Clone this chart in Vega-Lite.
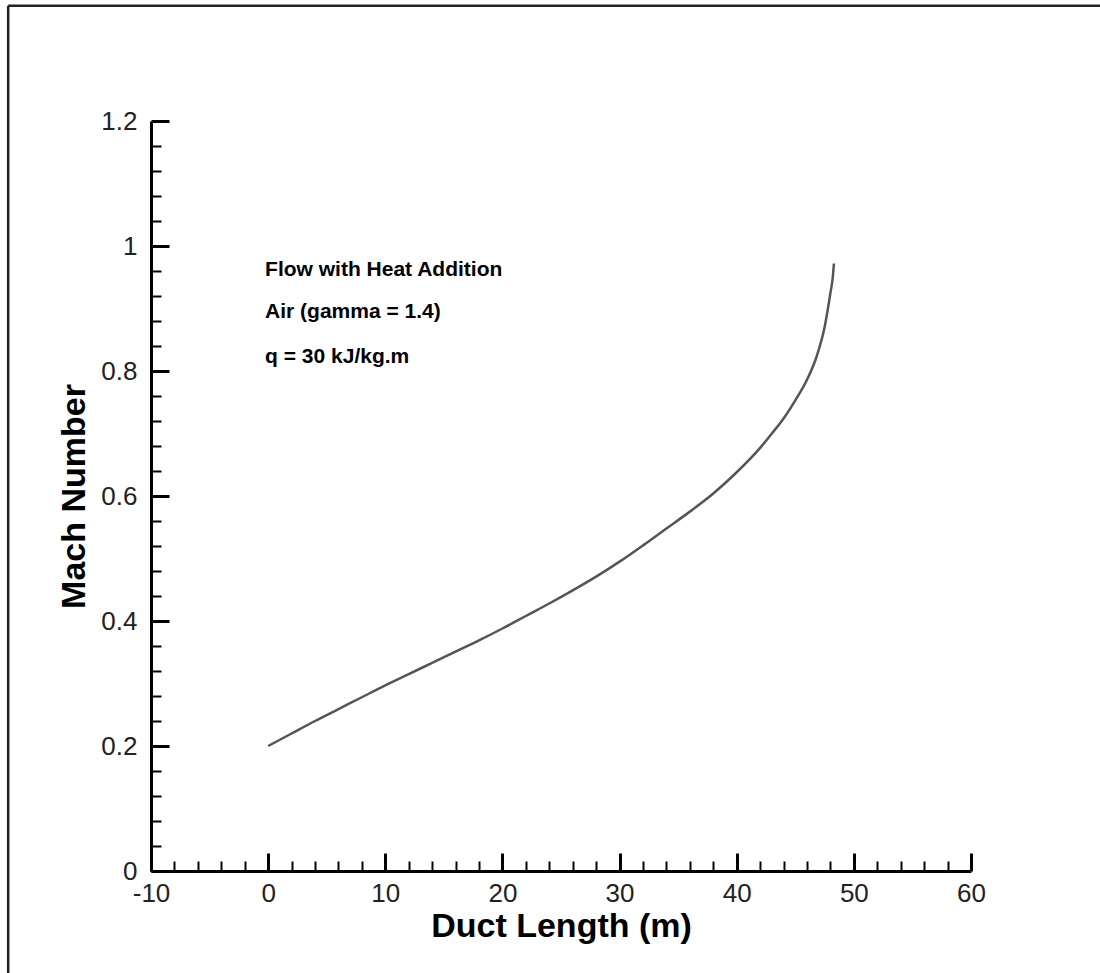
{
  "$schema": "https://vega.github.io/schema/vega-lite/v6.json",
  "width": 820,
  "height": 750,
  "autosize": {"type": "none"},
  "padding": {"left": 151, "top": 121, "right": 129, "bottom": 102},
  "background": "white",
  "config": {"view": {"stroke": null}, "axis": {"grid": false}},
  "layer": [
    {
      "data": {"values": [
        {"length": 0, "mach": 0.200},
        {"length": 2, "mach": 0.220},
        {"length": 4, "mach": 0.240},
        {"length": 6, "mach": 0.259},
        {"length": 8, "mach": 0.278},
        {"length": 10, "mach": 0.297},
        {"length": 12, "mach": 0.315},
        {"length": 14, "mach": 0.333},
        {"length": 16, "mach": 0.351},
        {"length": 18, "mach": 0.369},
        {"length": 20, "mach": 0.388},
        {"length": 22, "mach": 0.408},
        {"length": 24, "mach": 0.428},
        {"length": 26, "mach": 0.449},
        {"length": 28, "mach": 0.471},
        {"length": 30, "mach": 0.495},
        {"length": 32, "mach": 0.521},
        {"length": 34, "mach": 0.548},
        {"length": 36, "mach": 0.575},
        {"length": 38, "mach": 0.604},
        {"length": 40, "mach": 0.638},
        {"length": 42, "mach": 0.677},
        {"length": 43, "mach": 0.700},
        {"length": 44, "mach": 0.724},
        {"length": 45, "mach": 0.753},
        {"length": 46, "mach": 0.786},
        {"length": 46.8, "mach": 0.822},
        {"length": 47.5, "mach": 0.870},
        {"length": 48.0, "mach": 0.925},
        {"length": 48.2, "mach": 0.950},
        {"length": 48.3, "mach": 0.972}
      ]},
      "mark": {"type": "line", "color": "#555555", "strokeWidth": 2.5, "interpolate": "monotone"},
      "encoding": {
        "x": {
          "field": "length", "type": "quantitative",
          "scale": {"domain": [-10, 60], "nice": false, "zero": false},
          "axis": {
            "orient": "bottom",
            "values": [-10, 0, 10, 20, 30, 40, 50, 60],
            "tickSize": -18, "tickWidth": 3, "tickColor": "black",
            "domainColor": "black", "domainWidth": 3,
            "labelExpr": "'' + datum.value",
            "labelFont": "Liberation Sans", "labelFontSize": 26, "labelColor": "#222222",
            "labelPadding": 27, "labelFlush": false, "labelOverlap": false,
            "title": "Duct Length (m)",
            "titleFont": "Liberation Sans", "titleFontSize": 34, "titleFontWeight": "bold",
            "titleColor": "black", "titleX": 410, "titleY": 65, "titleBaseline": "alphabetic", "titleAlign": "center"
          }
        },
        "y": {
          "field": "mach", "type": "quantitative",
          "scale": {"domain": [0, 1.2], "nice": false, "zero": false},
          "axis": {
            "orient": "left",
            "values": [0, 0.2, 0.4, 0.6, 0.8, 1, 1.2],
            "tickSize": -18, "tickWidth": 3, "tickColor": "black",
            "domainColor": "black", "domainWidth": 3,
            "labelExpr": "'' + datum.value",
            "labelFont": "Liberation Sans", "labelFontSize": 26, "labelColor": "#222222",
            "labelPadding": 32, "labelFlush": false, "labelOverlap": false,
            "title": "Mach Number",
            "titleFont": "Liberation Sans", "titleFontSize": 34, "titleFontWeight": "bold",
            "titleColor": "black", "titleAngle": -90, "titleX": -67, "titleY": 375,
            "titleBaseline": "alphabetic", "titleAlign": "center"
          }
        }
      }
    },
    {
      "data": {"values": [
        {"x": -0.26, "y": 0.9525, "label": "Flow with Heat Addition"},
        {"x": -0.26, "y": 0.8843, "label": "Air (gamma = 1.4)"},
        {"x": -0.26, "y": 0.8128, "label": "q = 30  kJ/kg.m"}
      ]},
      "mark": {"type": "text", "align": "left", "baseline": "alphabetic", "font": "Liberation Sans", "fontWeight": "bold", "fontSize": 21, "color": "black"},
      "encoding": {
        "x": {
          "field": "x", "type": "quantitative",
          "scale": {"domain": [-10, 60], "nice": false, "zero": false},
          "axis": {
            "orient": "bottom",
            "values": [-8, -6, -4, -2, 2, 4, 6, 8, 12, 14, 16, 18, 22, 24, 26, 28, 32, 34, 36, 38, 42, 44, 46, 48, 52, 54, 56, 58],
            "tickSize": -10, "tickWidth": 2, "tickColor": "black",
            "domain": false, "labels": false, "title": null
          }
        },
        "y": {
          "field": "y", "type": "quantitative",
          "scale": {"domain": [0, 1.2], "nice": false, "zero": false},
          "axis": {
            "orient": "left",
            "values": [0.04, 0.08, 0.12, 0.16, 0.24, 0.28, 0.32, 0.36, 0.44, 0.48, 0.52, 0.56, 0.64, 0.68, 0.72, 0.76, 0.84, 0.88, 0.92, 0.96, 1.04, 1.08, 1.12, 1.16],
            "tickSize": -10, "tickWidth": 2, "tickColor": "black",
            "domain": false, "labels": false, "title": null
          }
        },
        "text": {"field": "label"}
      }
    },
    {
      "data": {"values": [{"edge": "left"}]},
      "mark": {"type": "rule", "color": "#222222", "strokeWidth": 2.5},
      "encoding": {
        "x": {"datum": -22.19, "type": "quantitative", "scale": {"domain": [-10, 60], "nice": false, "zero": false}, "axis": null},
        "y": {"datum": -0.2, "type": "quantitative", "scale": {"domain": [0, 1.2], "nice": false, "zero": false}, "axis": null},
        "y2": {"datum": 1.3843}
      }
    },
    {
      "data": {"values": [{"edge": "top"}]},
      "mark": {"type": "rule", "color": "#222222", "strokeWidth": 2.5},
      "encoding": {
        "x": {"datum": -22.19, "type": "quantitative", "scale": {"domain": [-10, 60], "nice": false, "zero": false}, "axis": null},
        "x2": {"datum": 80},
        "y": {"datum": 1.3843, "type": "quantitative", "scale": {"domain": [0, 1.2], "nice": false, "zero": false}, "axis": null}
      }
    }
  ],
  "resolve": {"axis": {"x": "independent", "y": "independent"}}
}
